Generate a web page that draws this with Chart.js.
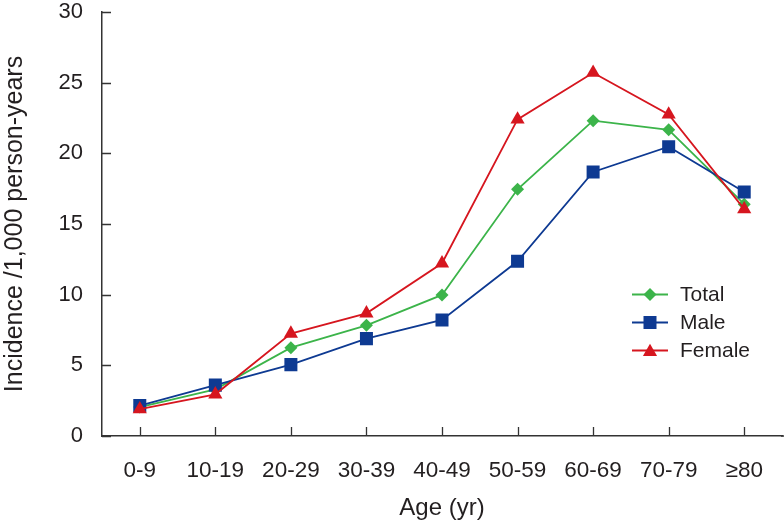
<!DOCTYPE html>
<html><head><meta charset="utf-8">
<script src="https://cdn.jsdelivr.net/npm/chart.js@4/dist/chart.umd.min.js"></script>
<style>html,body{margin:0;padding:0;background:#fff}#wrap{width:784px;height:525px}</style>
</head><body><div id="wrap"><canvas id="c" width="784" height="525"></canvas></div>
<script>
const categories = ['0-9','10-19','20-29','30-39','40-49','50-59','60-69','70-79','\u226580'];
const totalValues = [2.05, 3.3, 6.25, 7.83, 9.98, 17.46, 22.31, 21.66, 16.4];
const maleValues = [2.15, 3.6, 5.05, 6.89, 8.21, 12.36, 18.68, 20.47, 17.27];
const femaleValues = [1.9, 2.95, 7.25, 8.68, 12.22, 22.4, 25.7, 22.75, 16.05];
const yTicks = [0, 5, 10, 15, 20, 25, 30];
const seriesNames = ['Total', 'Male', 'Female'];

const GREEN = '#3cb44a', BLUE = '#0e3a92', RED = '#d6161f', AXIS = '#333333', TXT = '#231f20';
const FONT = "'Liberation Sans', Arial, sans-serif";

const innerTicks = {
  id: 'innerTicks',
  beforeDatasetsDraw(chart) {
    const ctx = chart.ctx, x = chart.scales.x, y = chart.scales.y, a = chart.chartArea;
    ctx.save();
    ctx.strokeStyle = AXIS; ctx.lineWidth = 1.3;
    ctx.beginPath();
    y.ticks.forEach((t, i) => { const py = Math.round(y.getPixelForTick(i)) + 0.5; ctx.moveTo(a.left, py); ctx.lineTo(a.left + 9, py); });
    x.ticks.forEach((t, i) => { const px = Math.round(x.getPixelForTick(i)) + 0.5; ctx.moveTo(px, a.bottom); ctx.lineTo(px, a.bottom - 9); });
    ctx.stroke();
    ctx.lineWidth = 1.5;
    ctx.beginPath(); ctx.moveTo(a.right - 1, a.bottom); ctx.lineTo(chart.width, a.bottom); ctx.stroke();
    ctx.restore();
  }
};

const customLegend = {
  id: 'customLegend',
  afterDraw(chart) {
    const ctx = chart.ctx;
    const rows = [294.5, 322.5, 350.5];
    ctx.save();
    chart.data.datasets.forEach((ds, i) => {
      const yy = rows[i];
      ctx.strokeStyle = ds.borderColor; ctx.lineWidth = ds.borderWidth;
      ctx.beginPath(); ctx.moveTo(632, yy); ctx.lineTo(668, yy); ctx.stroke();
      ctx.fillStyle = ds.pointBackgroundColor;
      Chart.helpers.drawPoint(ctx, {pointStyle: ds.pointStyle, radius: ds.pointRadius, borderWidth: 0, rotation: 0}, 650, yy + (ds.pointStyle === 'triangle' ? 1.5 : 0));
      ctx.fillStyle = TXT; ctx.font = '21px ' + FONT; ctx.textBaseline = 'middle'; ctx.textAlign = 'left';
      ctx.fillText(ds.label, 680, yy + 1);
    });
    ctx.restore();
  }
};

function series(label, data, color, style, radius, order) {
  return { label, data, borderColor: color, backgroundColor: color, pointBackgroundColor: color,
    pointBorderColor: color, pointBorderWidth: 0, borderWidth: 1.8, pointStyle: style,
    pointRadius: radius, pointHoverRadius: radius, tension: 0, fill: false, order };
}

Chart.defaults.font.family = FONT;
Chart.defaults.color = TXT;

new Chart(document.getElementById('c'), {
  type: 'line',
  data: {
    labels: categories,
    datasets: [
      series(seriesNames[0], totalValues, GREEN, 'rectRot', 6.5, 2),
      series(seriesNames[1], maleValues, BLUE, 'rect', 9.2, 1),
      series(seriesNames[2], femaleValues, RED, 'triangle', 8.2, 0)
    ]
  },
  options: {
    responsive: false, animation: false, devicePixelRatio: 1,
    layout: { autoPadding: false, padding: { top: 12, right: 2, left: 0, bottom: 0 } },
    plugins: { legend: { display: false }, tooltip: { enabled: false } },
    scales: {
      x: {
        type: 'category', offset: true,
        grid: { display: false, drawTicks: false, offset: false },
        border: { display: true, color: AXIS, width: 1.5 },
        ticks: { font: { size: 22.5 }, padding: 21, color: TXT, maxRotation: 0, autoSkip: false },
        title: { display: true, text: 'Age (yr)', font: { size: 24 }, color: TXT, padding: { top: 0, bottom: 2 } },
        afterFit(s) { s.height = 89; s.paddingLeft = 0; s.paddingRight = 0; }
      },
      y: {
        min: 0, max: 30,
        afterBuildTicks(s) { s.ticks = yTicks.map(v => ({ value: v })); },
        grid: { display: false, drawTicks: false },
        border: { display: true, color: AXIS, width: 1.5 },
        ticks: { font: { size: 22 }, padding: 19, color: TXT },
        title: { display: true, text: 'Incidence /1,000 person-years', font: { size: 25 }, color: TXT, padding: 0 },
        afterFit(s) { s.width = 102; s.paddingTop = 0; s.paddingBottom = 0; }
      }
    }
  },
  plugins: [innerTicks, customLegend]
});
</script></body></html>
